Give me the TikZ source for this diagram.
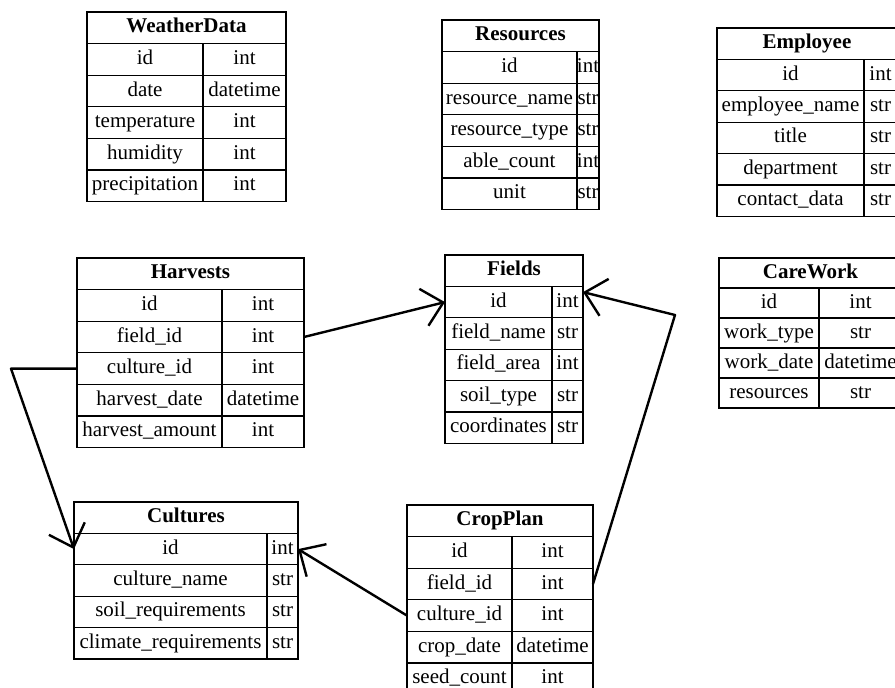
\documentclass[tikz,border=0pt]{standalone}
\usepackage{fontspec}
\setmainfont{Liberation Serif}
\usetikzlibrary{arrows.meta}

\tikzset{
  cellbox/.style={draw=black, line width=1.1pt, inner sep=0pt, outer sep=0pt,
    text height=14.5pt, text depth=4.5pt, font=\fontsize{21}{24}\selectfont},
  headbox/.style={cellbox, font=\fontsize{21}{24}\selectfont\bfseries},
  link/.style={line width=2.4pt, line join=round,
    -{Straight Barb[length=20pt 0, width=38pt 0]}},
}

% #1 name prefix, #2 title, #3 left x, #4 column divider x, #5 right x,
% #6 top y, #7 row height, #8 rows as name/field/type
\newcommand\dbtable[8]{%
  \node[headbox, minimum width={#5-#3}, minimum height={#7}] (#1)
    at ({(#3+#5)/2}, {#6+#7/2}) {#2};
  \foreach \rn/\fk/\fy [count=\i] in {#8} {
    \node[cellbox, minimum width={#4-#3}, minimum height={#7}] (#1-\rn-k)
      at ({(#3+#4)/2}, {#6+(\i+0.5)*#7}) {\makebox[0pt]{\fk}};
    \node[cellbox, minimum width={#5-#4}, minimum height={#7}] (#1-\rn-t)
      at ({(#4+#5)/2}, {#6+(\i+0.5)*#7}) {\makebox[0pt]{\fy}};
  }%
}

\begin{document}
\begin{tikzpicture}[x=1pt, y=-1pt]
  \useasboundingbox (0,0) rectangle (895,688);
  \fill[white] (0,0) rectangle (895,688);
  \clip (0,0) rectangle (895,688);

  \dbtable{wd}{WeatherData}{87}{203}{286}{12}{31.6}
    {id/id/int, date/date/datetime, temp/temperature/int, hum/humidity/int, prec/precipitation/int}
  \dbtable{res}{Resources}{442}{577}{599}{20}{31.6}
    {id/id/int, name/resource\_name/str, type/resource\_type/str, cnt/able\_count/int, unit/unit/str}
  \dbtable{emp}{Employee}{717}{864}{897}{28}{31.4}
    {id/id/int, name/employee\_name/str, title/title/str, dep/department/str, cont/contact\_data/str}
  \dbtable{har}{Harvests}{77}{222}{304}{258}{31.6}
    {id/id/int, fid/field\_id/int, cid/culture\_id/int, date/harvest\_date/datetime, amt/harvest\_amount/int}
  \dbtable{fld}{Fields}{445}{552}{583}{255}{31.4}
    {id/id/int, name/field\_name/str, area/field\_area/int, soil/soil\_type/str, coord/coordinates/str}
  \dbtable{cw}{CareWork}{719}{819}{902}{258}{30}
    {id/id/int, type/work\_type/str, date/work\_date/datetime, res/resources/str}
  \dbtable{cul}{Cultures}{74}{267}{298}{502}{31.4}
    {id/id/int, name/culture\_name/str, soil/soil\_requirements/str, clim/climate\_requirements/str}
  \dbtable{crp}{CropPlan}{407}{512}{593}{505}{31.6}
    {id/id/int, fid/field\_id/int, cid/culture\_id/int, date/crop\_date/datetime, seed/seed\_count/int}

  % foreign keys
  \draw[link] (har-fid-t.east) -- (fld-id-k.west);
  \draw[link] (har-cid-k.west) -- ([xshift=-66pt]har-cid-k.west) -- (cul-id-k.west);
  \draw[link] (crp-cid-k.west) -- (cul-id-t.east);
  \draw[link] (crp-fid-t.east) -- ([xshift=82pt, yshift=269pt]crp-fid-t.east)
    -- ([yshift=10pt]fld-id-t.east);
\end{tikzpicture}
\end{document}
